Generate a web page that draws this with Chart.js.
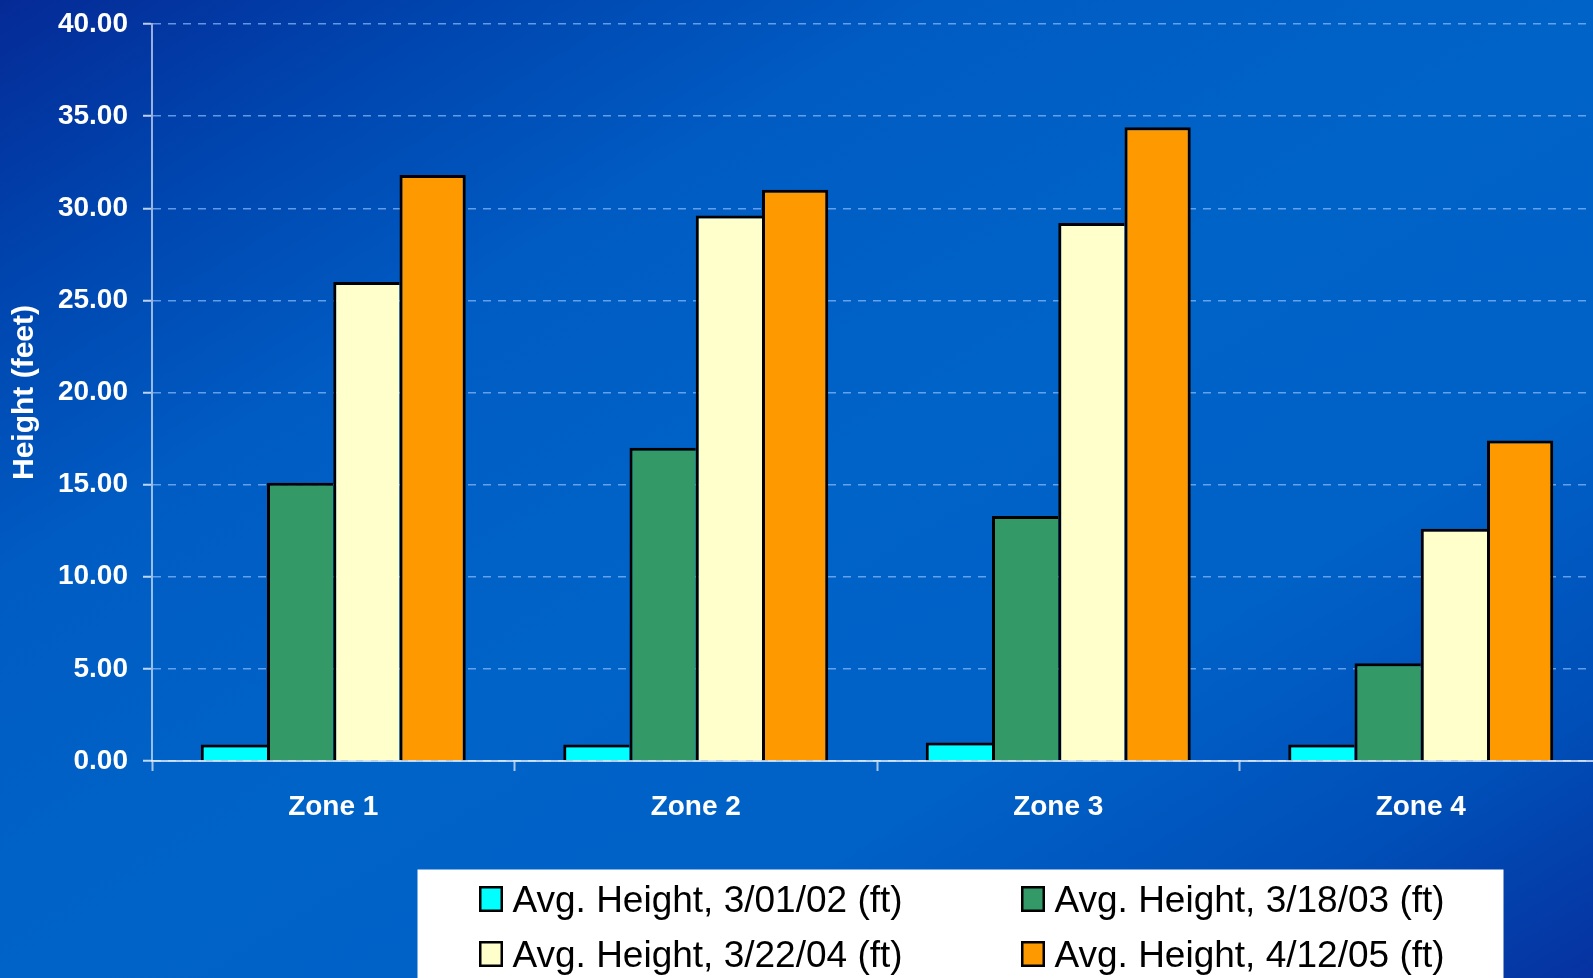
<!DOCTYPE html>
<html>
<head>
<meta charset="utf-8">
<script src="https://cdn.jsdelivr.net/npm/chart.js@4.4.1/dist/chart.umd.min.js"></script>
<style>
  html, body { margin: 0; padding: 0; overflow: hidden; }
  #wrap {
    position: relative;
    width: 1593px;
    height: 978px;
    overflow: hidden;
    background: linear-gradient(to bottom right,
      #052a96 0%, #0044ae 14%, #005cc3 30%, #0063c8 50%,
      #0061c7 70%, #004fb8 86%, #0632a0 100%);
  }
  canvas { display: block; }
</style>
</head>
<body>
<div id="wrap"><canvas id="c" width="1602" height="978"></canvas></div>
<script>
// Average tree height per zone at each survey date (feet)
const zones = ['Zone 1', 'Zone 2', 'Zone 3', 'Zone 4'];
const seriesLabels = [
  'Avg. Height, 3/01/02 (ft)',
  'Avg. Height, 3/18/03 (ft)',
  'Avg. Height, 3/22/04 (ft)',
  'Avg. Height, 4/12/05 (ft)'
];
const height2002 = [0.9, 0.9, 1.0, 0.9];
const height2003 = [15.1, 17.0, 13.3, 5.3];
const height2004 = [26.0, 29.6, 29.2, 12.6];
const height2005 = [31.8, 31.0, 34.4, 17.4];
const yTicks = [0, 5, 10, 15, 20, 25, 30, 35, 40];

const seriesColors = ['#00ffff', '#339966', '#ffffcc', '#ff9900'];
const seriesValues = [height2002, height2003, height2004, height2005];

const FONT = '"Liberation Sans", Arial, Helvetica, sans-serif';

// Adjacent bars share a single outline: each bar draws left + top,
// the last series also closes the right side.
const datasets = seriesValues.map((vals, i) => ({
  label: seriesLabels[i],
  data: vals,
  backgroundColor: seriesColors[i],
  borderColor: '#000000',
  borderWidth: i === seriesValues.length - 1
    ? { left: 3, top: 3, right: 3, bottom: 0 }
    : { left: 3, top: 3, right: 0, bottom: 0 },
  borderSkipped: 'start',
  categoryPercentage: 0.731,
  barPercentage: 1.0
}));

// White legend panel below the axis, two columns by two rows
const legendPanel = {
  id: 'legendPanel',
  afterDraw(chart) {
    const ctx = chart.ctx;
    ctx.save();
    ctx.fillStyle = '#ffffff';
    ctx.fillRect(417.5, 869.5, 1086, 120);
    ctx.font = '37px ' + FONT;
    ctx.textBaseline = 'alphabetic';
    ctx.textAlign = 'left';
    chart.data.datasets.forEach((ds, i) => {
      const col = i % 2;
      const row = Math.floor(i / 2);
      const sx = col ? 1021 : 479;
      const base = row ? 967 : 912;
      ctx.fillStyle = ds.backgroundColor;
      ctx.fillRect(sx, base - 26, 24, 26);
      ctx.strokeStyle = '#000000';
      ctx.lineWidth = 2.5;
      ctx.strokeRect(sx + 1.25, base - 24.75, 21.5, 23.5);
      ctx.fillStyle = '#000000';
      ctx.fillText(ds.label, sx + 33.5, base);
    });
    ctx.restore();
  }
};

new Chart(document.getElementById('c'), {
  type: 'bar',
  data: { labels: zones, datasets },
  plugins: [legendPanel],
  options: {
    responsive: false,
    animation: false,
    devicePixelRatio: 1,
    layout: { padding: { top: 24, left: 0, right: 0, bottom: 0 } },
    plugins: {
      legend: { display: false },
      tooltip: { enabled: false }
    },
    scales: {
      x: {
        grid: {
          display: true,
          offset: true,
          drawOnChartArea: false,
          drawTicks: true,
          tickLength: 10,
          tickColor: 'rgba(255,255,255,0.65)',
          tickWidth: 2
        },
        border: { display: true, color: 'rgba(255,255,255,0.7)', width: 2 },
        ticks: {
          color: '#ffffff',
          font: { family: FONT, size: 28, weight: 'bold' },
          padding: 19,
          maxRotation: 0
        },
        afterFit(scale) { scale.height = 217; }
      },
      y: {
        min: 0,
        max: 40,
        afterBuildTicks(scale) { scale.ticks = yTicks.map(v => ({ value: v })); },
        grid: {
          color: 'rgba(140,190,255,0.7)',
          lineWidth: 1.5,
          drawTicks: true,
          tickLength: 9,
          tickColor: 'rgba(255,255,255,0.75)',
          tickWidth: 2
        },
        border: { display: true, color: 'rgba(255,255,255,0.6)', width: 2, dash: [8, 7] },
        ticks: {
          color: '#ffffff',
          font: { family: FONT, size: 28, weight: 'bold' },
          padding: 15,
          callback: v => Number(v).toFixed(2)
        },
        title: {
          display: true,
          text: 'Height (feet)',
          color: '#ffffff',
          font: { family: FONT, size: 30, weight: 'bold' },
          padding: { top: 7, bottom: 0 }
        },
        afterFit(scale) {
          scale.width = 152;
          scale.paddingTop = 0;
          scale.paddingBottom = 0;
        }
      }
    }
  }
});
</script>
</body>
</html>
